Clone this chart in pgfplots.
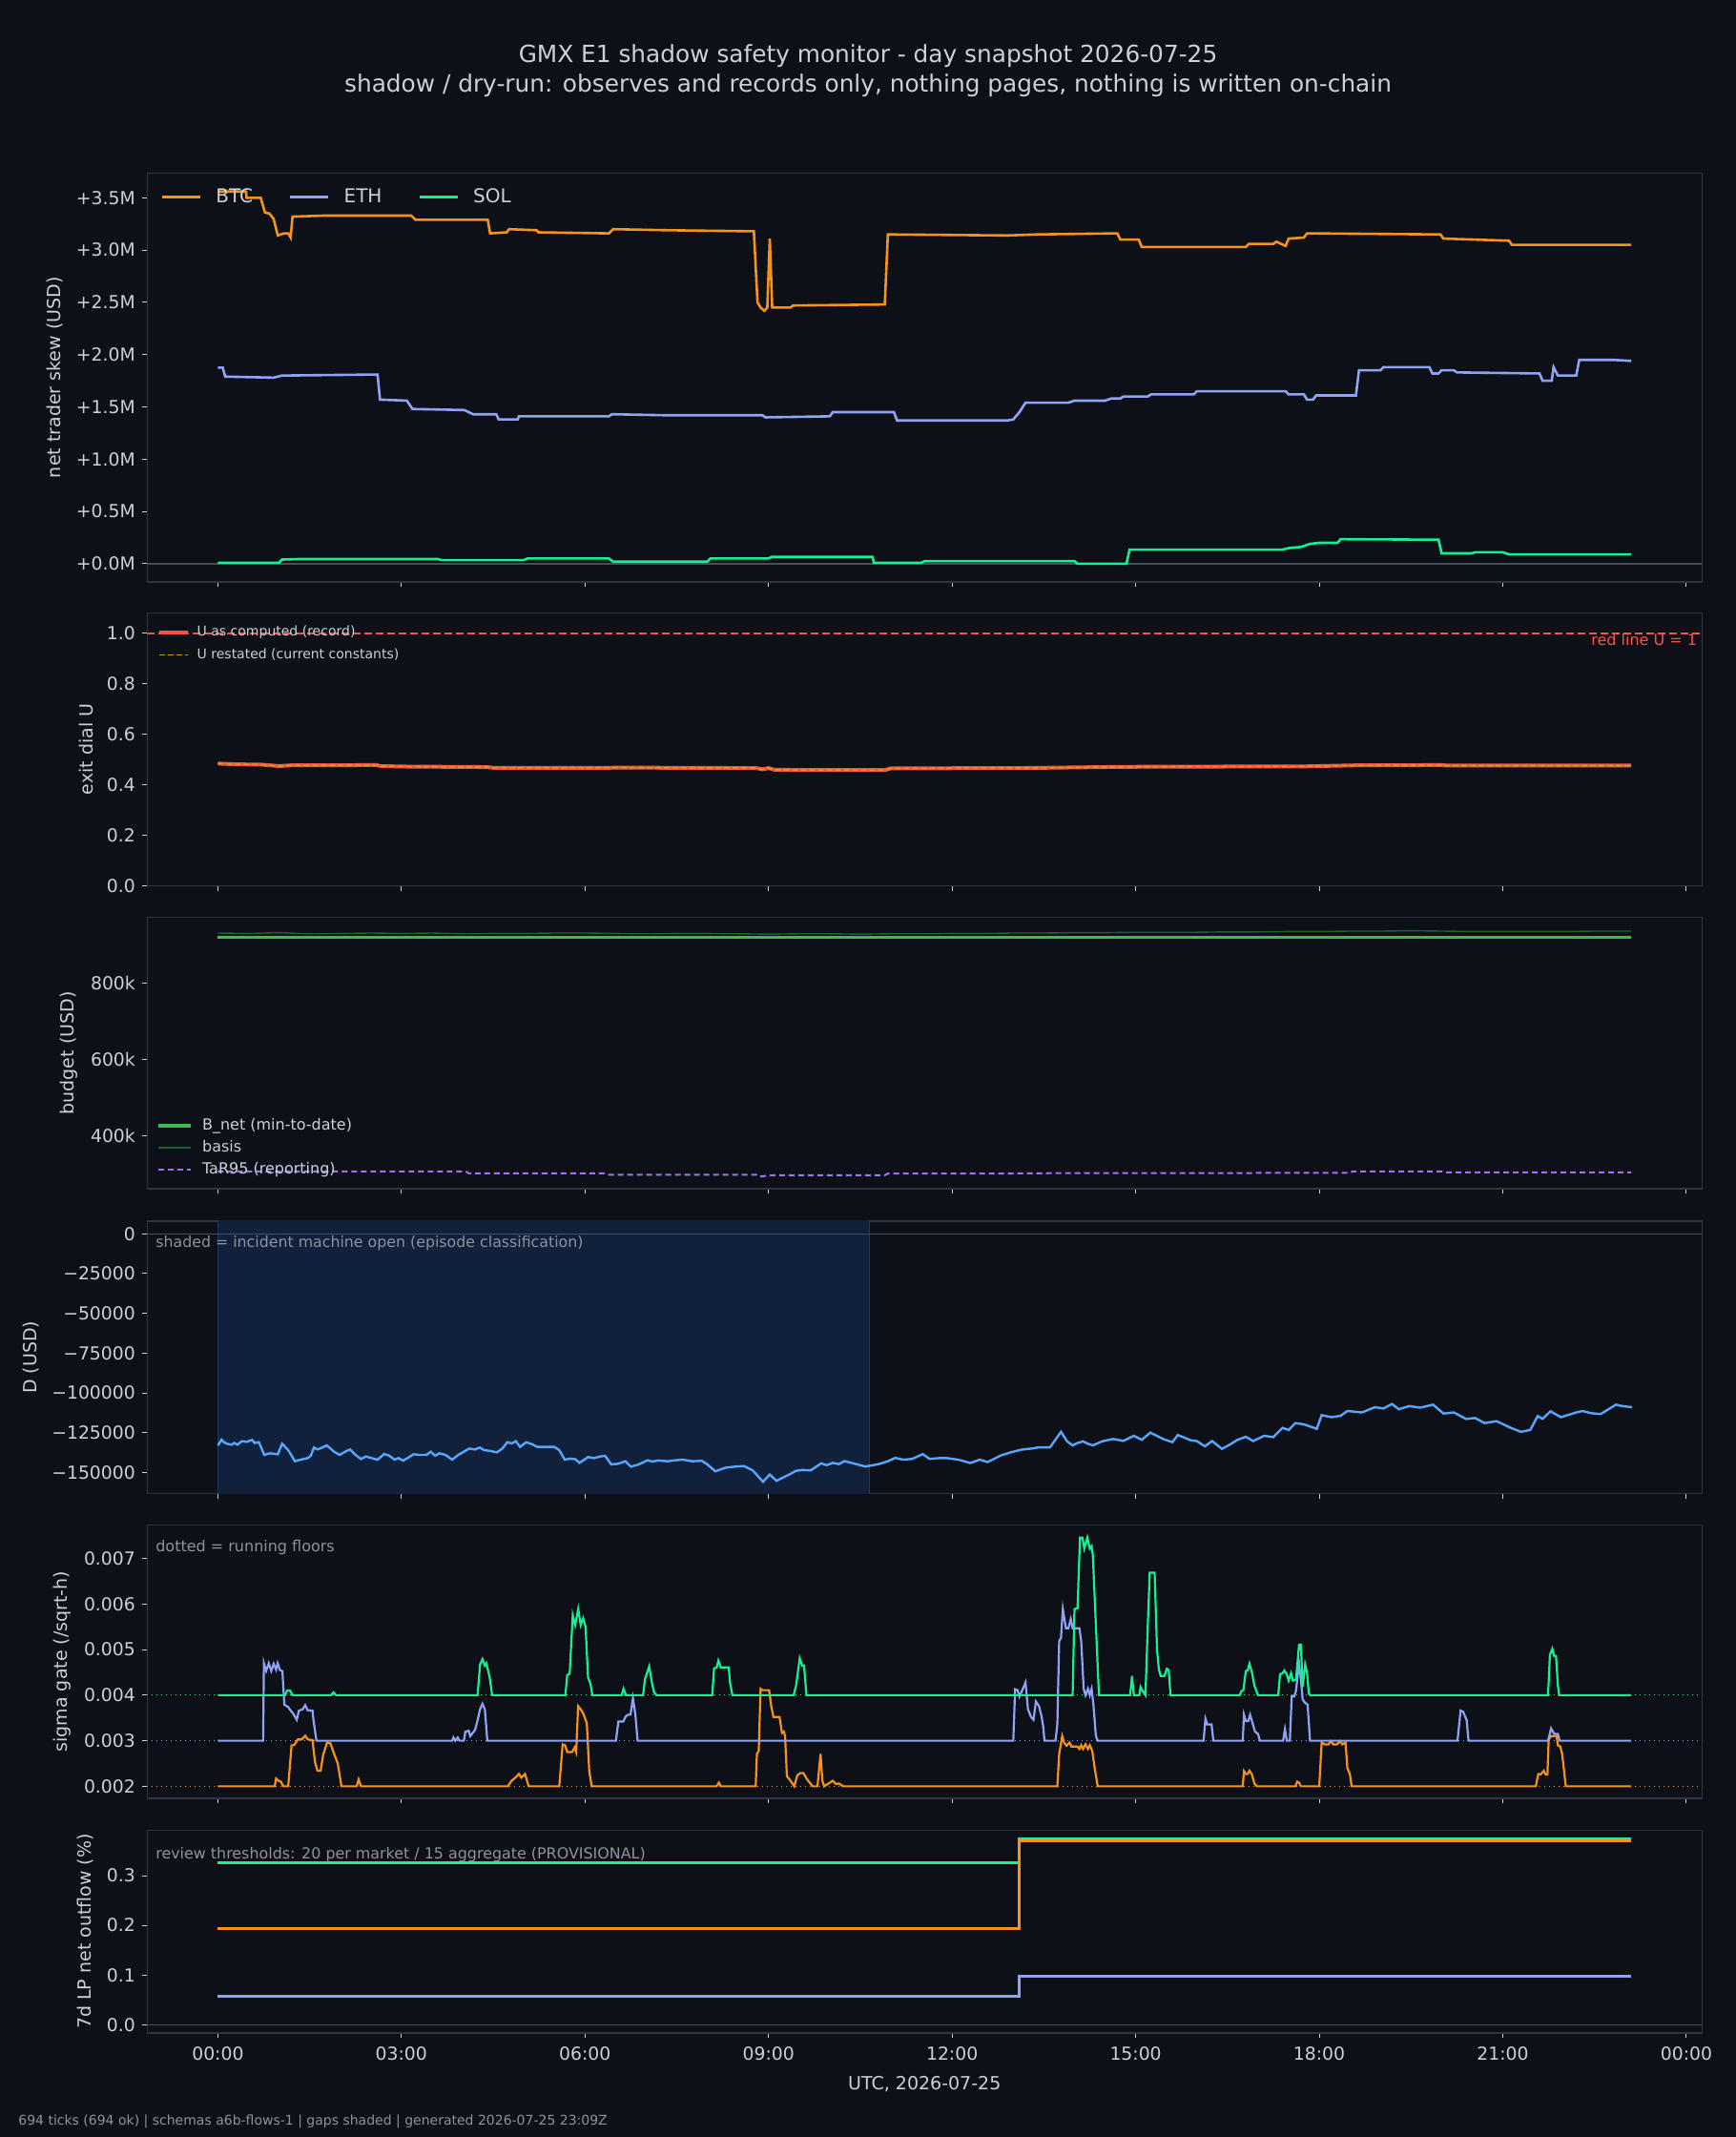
\documentclass[border=0pt]{standalone}
\usepackage{fontspec}
\setmainfont{DejaVu Sans}
\usepackage{pgfplots}
\usepackage{pgfplotstable}
\pgfplotsset{compat=1.18}

\definecolor{bgc}{HTML}{0D1117}
\definecolor{framec}{HTML}{30363D}
\definecolor{textc}{HTML}{C9D1D9}
\definecolor{mutedc}{HTML}{8B949E}
\definecolor{zeroc}{HTML}{484F58}
\definecolor{btc}{HTML}{F7931A}
\definecolor{eth}{HTML}{8FA3F5}
\definecolor{sol}{HTML}{14F195}
\definecolor{ured}{HTML}{F85149}
\definecolor{uorange}{HTML}{D29922}
\definecolor{bnet}{HTML}{3FB950}
\definecolor{basis}{HTML}{1F5F2E}
\definecolor{tar}{HTML}{A371F7}
\definecolor{dblue}{HTML}{58A6FF}
\definecolor{shadec}{HTML}{11213B}
\definecolor{shadeedge}{HTML}{1C3A63}

% exit dial U, as computed (the restated series coincides)
\pgfplotstableread{
h u
0 0.484
0.3 0.481
0.7 0.480
1.0 0.474
1.2 0.477
2.6 0.478
2.65 0.474
3.1 0.472
4.4 0.470
4.5 0.467
6.4 0.467
6.5 0.468
8.8 0.466
8.9 0.461
9.0 0.466
9.1 0.459
10.9 0.458
11.0 0.465
13.1 0.466
14.8 0.471
17.8 0.473
18.6 0.477
20.0 0.478
20.1 0.476
23.1 0.476
}\Utab

\pgfplotsset{
  panel/.style={
    scale only axis, width=815pt, anchor=north west,
    xmin=-1.155, xmax=24.255,
    xtick={0,3,6,9,12,15,18,21,24}, xticklabels={},
    tick align=outside, xtick pos=bottom, ytick pos=left,
    major tick length=2.7pt,
    major tick style={textc, line width=0.5pt},
    axis line style={framec, line width=0.7pt},
    tick label style={font=\fontsize{9.4}{11}\selectfont, text=textc},
    ylabel style={font=\fontsize{9.5}{11}\selectfont, text=textc},
    /pgf/number format/assume math mode=true,
    legend cell align=left,
  },
}

\begin{document}
\begin{tikzpicture}
\fill[bgc] (0,0) rectangle (910pt,1120pt);
\path[use as bounding box] (0,0) rectangle (910pt,1120pt);

\node[font=\fontsize{12.4}{15}\selectfont, text=textc] at (455pt,1090.5pt) {GMX E1 shadow safety monitor - day snapshot 2026-07-25};
\node[font=\fontsize{12.4}{15}\selectfont, text=textc] at (455pt,1075pt) {shadow / dry-run: observes and records only, nothing pages, nothing is written on-chain};

% ---------------- net trader skew ----------------
\begin{axis}[panel, at={(77.15pt,1029.3pt)}, height=214.3pt,
  ymin=-0.174, ymax=3.737,
  ytick={0,0.5,1,1.5,2,2.5,3,3.5},
  yticklabels={+0.0M,+0.5M,+1.0M,+1.5M,+2.0M,+2.5M,+3.0M,+3.5M},
  ylabel={net trader skew (USD)},
  legend columns=3,
  legend style={draw=none, fill=none, text=textc, font=\fontsize{10}{12}\selectfont,
    at={(0,1)}, anchor=north west, xshift=4pt, yshift=-4pt,
    /tikz/every odd column/.style={column sep=5.5pt},
    /tikz/every even column/.style={column sep=17pt}},
  legend image code/.code={\draw[#1] (0pt,0pt) -- (20pt,0pt);},
]
\addplot[zeroc, line width=0.6pt, forget plot] coordinates {(-1.155,0) (24.255,0)};
\addplot[btc, line width=1.3pt] coordinates {
(0,3.56) (0.46,3.56) (0.47,3.50) (0.70,3.50) (0.77,3.36) (0.84,3.35) (0.91,3.30) (0.98,3.14) (1.08,3.16) (1.15,3.16) (1.19,3.12) (1.22,3.32) (1.74,3.33) (3.16,3.33) (3.23,3.29) (4.41,3.29) (4.45,3.16) (4.72,3.17) (4.76,3.20) (5.21,3.19) (5.24,3.17) (6.39,3.16) (6.46,3.20) (7.35,3.19) (8.76,3.18) (8.82,2.50) (8.87,2.45) (8.93,2.42) (8.98,2.45) (9.02,3.11) (9.06,2.45) (9.36,2.45) (9.40,2.47) (10.90,2.48) (10.95,3.15) (12.90,3.14) (13.40,3.15) (14.70,3.16) (14.75,3.10) (15.05,3.10) (15.10,3.03) (16.80,3.03) (16.85,3.06) (17.25,3.06) (17.30,3.08) (17.45,3.04) (17.50,3.11) (17.75,3.12) (17.80,3.16) (19.98,3.15) (20.03,3.11) (21.10,3.09) (21.15,3.05) (23.10,3.05)};
\addlegendentry{BTC}
\addplot[eth, line width=1.3pt] coordinates {
(0,1.875) (0.08,1.875) (0.12,1.79) (0.91,1.78) (1.05,1.80) (2.61,1.81) (2.65,1.57) (3.09,1.56) (3.18,1.48) (4.03,1.47) (4.17,1.43) (4.55,1.43) (4.59,1.38) (4.90,1.38) (4.92,1.41) (6.39,1.41) (6.44,1.43) (7.35,1.42) (8.9,1.42) (8.95,1.40) (10.0,1.41) (10.05,1.45) (11.05,1.45) (11.1,1.37) (12.9,1.37) (13.0,1.38) (13.1,1.45) (13.2,1.54) (13.9,1.54) (14.0,1.56) (14.5,1.56) (14.6,1.58) (14.75,1.58) (14.8,1.60) (15.2,1.60) (15.25,1.62) (15.95,1.62) (16.0,1.65) (17.45,1.65) (17.5,1.62) (17.75,1.62) (17.8,1.57) (17.9,1.57) (17.95,1.61) (18.6,1.61) (18.65,1.85) (19.0,1.85) (19.05,1.88) (19.8,1.88) (19.85,1.82) (19.95,1.82) (20.0,1.85) (20.2,1.85) (20.25,1.83) (21.6,1.82) (21.65,1.75) (21.8,1.75) (21.83,1.88) (21.9,1.80) (22.2,1.80) (22.25,1.95) (22.8,1.95) (23.1,1.94)};
\addlegendentry{ETH}
\addplot[sol, line width=1.3pt] coordinates {
(0,0.01) (1.0,0.01) (1.05,0.04) (1.33,0.045) (3.6,0.045) (3.65,0.035) (5.0,0.035) (5.06,0.05) (6.39,0.05) (6.46,0.02) (8.0,0.02) (8.05,0.05) (9.0,0.05) (9.05,0.065) (10.7,0.065) (10.72,0.01) (11.5,0.01) (11.55,0.025) (14.0,0.025) (14.05,0.0) (14.85,0.0) (14.9,0.135) (17.4,0.135) (17.5,0.15) (17.7,0.16) (17.85,0.19) (18.0,0.20) (18.3,0.20) (18.35,0.235) (19.95,0.23) (20.0,0.10) (20.5,0.10) (20.55,0.11) (21.0,0.11) (21.1,0.09) (23.1,0.09)};
\addlegendentry{SOL}
\end{axis}

% ---------------- exit dial U ----------------
\begin{axis}[panel, at={(77.15pt,798.65pt)}, height=142.8pt,
  ymin=0, ymax=1.0805,
  ytick={0,0.2,0.4,0.6,0.8,1.0},
  yticklabels={0.0,0.2,0.4,0.6,0.8,1.0},
  ylabel={exit dial U},
  legend style={draw=none, fill=none, text=textc, font=\fontsize{7}{8.5}\selectfont,
    at={(0,1)}, anchor=north west, xshift=2pt, yshift=-2.5pt, row sep=1pt,
    /tikz/every odd column/.style={column sep=2pt}},
  legend image code/.code={\draw[#1] (0pt,0pt) -- (15pt,0pt);},
]
\addplot[ured, line width=2pt] table[x=h, y=u] {\Utab};
\addlegendentry{U as computed (record)}
\addplot[uorange, line width=0.9pt, dash pattern=on 3pt off 1.5pt] table[x=h, y=u] {\Utab};
\addlegendentry{U restated (current constants)}
\addplot[ured, line width=1pt, dash pattern=on 4pt off 2pt, forget plot] coordinates {(-1.155,1) (24.255,1)};
\node[anchor=east, text=ured, font=\fontsize{8}{9}\selectfont, inner sep=0pt] at (axis cs:24.18,1) [yshift=-3.5pt] {red line U = 1};
\end{axis}

% ---------------- budget ----------------
\begin{axis}[panel, at={(77.15pt,639.15pt)}, height=142.2pt,
  ymin=259, ymax=974,
  ytick={400,600,800},
  yticklabels={400k,600k,800k},
  ylabel={budget (USD)},
  legend style={draw=none, fill=none, text=textc, font=\fontsize{8}{9.5}\selectfont,
    at={(0,0)}, anchor=south west, xshift=2pt, yshift=2pt, row sep=0pt,
    /tikz/every odd column/.style={column sep=3pt}},
  legend image code/.code={\draw[#1] (0pt,0pt) -- (17pt,0pt);},
]
\addplot[bnet, line width=1.7pt] coordinates {(0,921) (23.1,921)};
\addlegendentry{B\_net (min-to-date)}
\addplot[basis, line width=0.7pt] coordinates {
(0,933) (0.5,932) (1,934) (1.5,931) (2,932) (2.5,933) (3,932) (3.5,933) (4,931) (4.5,932) (5,932) (5.5,933) (6,933) (6.5,932) (7,931) (7.5,932) (8,932) (8.5,931) (9,930) (9.5,931) (10,931) (10.5,930) (11,931) (11.5,931) (12,932) (12.5,932) (13,933) (13.5,933) (14,934) (14.5,934) (15,935) (15.5,935) (16,935) (16.5,936) (17,936) (17.5,937) (18,937) (18.5,938) (19,938) (19.5,939) (20,938) (20.5,937) (21,937) (21.5,937) (22,937) (22.5,938) (23.1,938)};
\addlegendentry{basis}
\addplot[tar, line width=1pt, dash pattern=on 3pt off 2pt] coordinates {
(0,305) (4.05,305) (4.1,300) (6.3,300) (6.4,296) (8.8,296) (8.85,291) (8.95,293) (9.05,295) (10.9,295) (10.95,299) (13.0,299) (13.1,300) (18.5,301) (18.55,305) (20.0,305) (20.05,302) (23.1,302)};
\addlegendentry{TaR95 (reporting)}
\end{axis}

% ---------------- D ----------------
\begin{axis}[panel, at={(77.15pt,480pt)}, height=142.85pt,
  ymin=-163.4, ymax=8,
  ytick={0,-25,-50,-75,-100,-125,-150},
  yticklabels={0,−25000,−50000,−75000,−100000,−125000,−150000},
  ylabel={D (USD)},
]
\addplot[fill=shadec, draw=shadeedge, line width=0.5pt] coordinates {(0,-170) (0,20) (10.65,20) (10.65,-170)} -- cycle;
\addplot[zeroc, line width=0.6pt] coordinates {(-1.155,0) (24.255,0)};
\addplot[dblue, line width=1.2pt] coordinates {
(0.00,-133) (0.02,-132) (0.06,-129.4) (0.10,-131) (0.15,-132) (0.22,-132.6) (0.27,-131.5) (0.32,-132.6) (0.39,-130.4) (0.47,-130.8) (0.56,-129.6) (0.60,-131.5) (0.67,-131) (0.76,-139) (0.85,-138) (0.98,-138.6) (1.05,-132) (1.15,-136) (1.26,-143) (1.35,-142) (1.47,-141) (1.52,-139.5) (1.57,-134.4) (1.62,-135.5) (1.67,-135) (1.78,-133) (1.9,-137) (1.99,-139) (2.08,-137) (2.16,-135.6) (2.25,-139) (2.34,-141.6) (2.42,-140) (2.51,-141) (2.61,-142) (2.72,-138.4) (2.80,-139.5) (2.89,-142) (2.95,-141) (3.03,-142.6) (3.1,-141) (3.2,-138.6) (3.3,-139) (3.41,-139) (3.48,-137) (3.55,-139.5) (3.62,-138) (3.72,-139) (3.83,-142) (3.93,-139) (4.02,-137) (4.11,-135) (4.2,-135.6) (4.28,-134.4) (4.35,-136) (4.45,-136.5) (4.56,-137.4) (4.65,-135) (4.73,-131) (4.8,-131.8) (4.87,-130.4) (4.94,-134) (5.04,-131) (5.15,-132.5) (5.22,-134) (5.35,-134) (5.5,-134) (5.58,-136) (5.67,-142) (5.75,-141.4) (5.84,-141.6) (5.91,-144) (6.05,-140.4) (6.15,-141) (6.25,-140) (6.33,-139.6) (6.43,-145) (6.54,-144.6) (6.66,-143) (6.75,-146.4) (6.88,-145) (7.02,-142.4) (7.1,-143.2) (7.2,-142.5) (7.35,-143)
(7.5,-142.3) (7.6,-142) (7.75,-143) (7.91,-142.7) (8.0,-145) (8.13,-149.3) (8.3,-147) (8.47,-146.3) (8.6,-146) (8.74,-148.7) (8.91,-155.9) (9.02,-151.3) (9.13,-155.3) (9.25,-153) (9.34,-151.3) (9.45,-149) (9.55,-148.5) (9.69,-148.7) (9.86,-144.3) (9.95,-145.5) (10.05,-144) (10.15,-144.8) (10.24,-142.9) (10.4,-144.5) (10.58,-146.3) (10.79,-144.9) (10.95,-143) (11.07,-140.9) (11.2,-142) (11.35,-141.5) (11.52,-138.5) (11.63,-141.5) (11.8,-141) (11.91,-141) (12.1,-142) (12.3,-144.1) (12.45,-142) (12.58,-143.5) (12.8,-139.3) (12.95,-137.5) (13.13,-135.7) (13.3,-135) (13.41,-134.3) (13.6,-134.3) (13.78,-124.5) (13.88,-130.5) (13.97,-133) (14.05,-131.5) (14.14,-130.5) (14.22,-132) (14.3,-133) (14.45,-130.5) (14.63,-129) (14.8,-130.2) (14.97,-127) (15.1,-129.5) (15.24,-125) (15.45,-129) (15.6,-131) (15.69,-126.5) (15.9,-129.8) (16.0,-130.3) (16.13,-133.6) (16.25,-130.3) (16.41,-135.2) (16.55,-132.3) (16.66,-129.6) (16.8,-127.6) (16.92,-130.3) (17.1,-127) (17.25,-127.8) (17.4,-122) (17.5,-123.3) (17.61,-119) (17.75,-119.8) (17.96,-122.6) (18.04,-114) (18.2,-115.3) (18.35,-114.4) (18.46,-111.4) (18.7,-112.3) (18.91,-109) (19.05,-109.8) (19.19,-107) (19.3,-110.3) (19.47,-108.3) (19.65,-109.3) (19.86,-107.4) (20.03,-113) (20.2,-112.3) (20.4,-116.4) (20.55,-115.8) (20.7,-119) (20.9,-117.8) (21.13,-122) (21.3,-124.5) (21.45,-123.3) (21.57,-114.6) (21.65,-116.3) (21.78,-111.6) (21.95,-115.3) (22.2,-112.3) (22.3,-111.4) (22.45,-112.8) (22.6,-113.3) (22.85,-107.4) (22.95,-108.3) (23.11,-109)};
\node[anchor=west, text=mutedc, font=\fontsize{7.9}{9.5}\selectfont, inner sep=0pt] at (rel axis cs:0.0053,1) [yshift=-11.7pt] {shaded = incident machine open (episode classification)};
\end{axis}

% ---------------- sigma gate ----------------
\begin{axis}[panel, at={(77.15pt,320.85pt)}, height=143.35pt,
  ymin=1.735, ymax=7.74,
  ytick={2,3,4,5,6,7},
  yticklabels={0.002,0.003,0.004,0.005,0.006,0.007},
  ylabel={sigma gate (/sqrt-h)},
]
\addplot[sol, dotted, line width=0.5pt] coordinates {(-1.155,4) (24.255,4)};
\addplot[eth, dotted, line width=0.5pt] coordinates {(-1.155,3) (24.255,3)};
\addplot[btc, dotted, line width=0.5pt] coordinates {(-1.155,2) (24.255,2)};
\addplot[btc, line width=1.1pt] coordinates {
(0,2) (0.93,2) (0.952,2.17) (0.992,2.12) (1.03,2.1) (1.07,2.0) (1.15,2.0) (1.205,2.9) (1.245,2.9) (1.309,3.03) (1.372,3.03) (1.428,3.11) (1.467,3.03) (1.547,3.01) (1.587,2.54) (1.627,2.34) (1.68,2.34) (1.72,2.68) (1.785,2.96) (1.84,2.94) (1.90,2.71) (1.96,2.5) (2.02,2.0) (2.27,2.0) (2.30,2.15) (2.34,2.0) (4.74,2) (4.80,2.12) (4.864,2.19) (4.92,2.27) (4.96,2.19) (5.02,2.27) (5.08,2.0) (5.58,2) (5.635,2.92) (5.675,2.9) (5.71,2.75) (5.79,2.75) (5.83,2.85) (5.856,2.75) (5.888,3.76) (5.93,3.69) (5.975,3.59) (6.03,3.38) (6.07,2.33) (6.11,2.0) (8.15,2) (8.19,2.08) (8.22,2) (8.79,2) (8.81,2.71) (8.84,2.78) (8.87,4.14) (8.9,4.11) (9.01,4.11) (9.04,3.79) (9.08,3.52) (9.18,3.52) (9.22,3.17) (9.25,3.2) (9.27,3.1) (9.3,2.22) (9.36,2.12) (9.42,2.0) (9.47,2.24) (9.52,2.29) (9.57,2.29) (9.63,2.15) (9.69,2.05) (9.72,2.0) (9.8,2.0) (9.85,2.71) (9.88,2.12) (9.91,2.0) (10.05,2.12) (10.1,2.05) (10.15,2.06) (10.22,2.0) (13.72,2) (13.75,2.71) (13.8,3.1) (13.83,2.96) (13.87,2.89) (13.92,2.96) (13.95,2.87) (14.05,2.87) (14.08,2.82) (14.11,2.9) (14.14,2.82) (14.18,2.92) (14.22,2.82) (14.25,2.9) (14.29,2.78) (14.33,2.4) (14.38,2.0) (16.75,2) (16.77,2.33) (16.8,2.27) (16.83,2.27) (16.86,2.34) (16.9,2.26) (16.94,2.06) (16.98,2.0) (17.61,2) (17.64,2.1) (17.67,2.08) (17.7,2.0) (18.0,2) (18.04,2.96) (18.09,2.92) (18.15,2.92) (18.19,2.99) (18.23,2.92) (18.29,2.92) (18.34,2.99) (18.38,2.92) (18.43,2.96) (18.46,2.4) (18.5,2.27) (18.53,2.0) (21.54,2) (21.58,2.27) (21.62,2.26) (21.67,2.34) (21.7,2.26) (21.73,2.26) (21.75,3.03) (21.79,3.1) (21.88,3.1) (21.9,2.9) (21.94,2.87) (21.97,2.71) (22.03,2.0) (23.1,2)};
\addplot[eth, line width=1.1pt] coordinates {
(0,3) (0.74,3) (0.753,4.70) (0.79,4.53) (0.832,4.70) (0.872,4.53) (0.912,4.69) (0.952,4.56) (0.976,4.70) (1.015,4.55) (1.055,4.53) (1.087,3.79) (1.15,3.74) (1.19,3.66) (1.229,3.6) (1.29,3.46) (1.325,3.66) (1.388,3.69) (1.428,3.78) (1.467,3.67) (1.547,3.66) (1.563,3.45) (1.611,3.0) (3.83,3) (3.85,3.07) (3.88,3) (3.92,3.07) (3.95,3) (4.02,3) (4.046,3.2) (4.10,3.22) (4.125,3.1) (4.205,3.24) (4.245,3.45) (4.285,3.69) (4.324,3.81) (4.364,3.69) (4.404,3.0) (6.506,3) (6.546,3.42) (6.625,3.42) (6.665,3.53) (6.70,3.57) (6.744,3.57) (6.784,3.93) (6.824,3.57) (6.86,3.0) (13.0,3) (13.03,4.13) (13.07,4.11) (13.1,3.97) (13.17,4.18) (13.2,4.28) (13.24,3.69) (13.29,3.52) (13.33,3.46) (13.37,3.86) (13.42,3.76) (13.46,3.55) (13.49,3.3) (13.51,3.0) (13.69,3) (13.72,3.36) (13.75,5.19) (13.78,5.26) (13.81,5.89) (13.86,5.47) (13.9,5.47) (13.94,5.67) (13.97,5.47) (14.08,5.47) (14.11,5.19) (14.15,4.14) (14.18,4.0) (14.22,4.14) (14.25,4.0) (14.28,4.14) (14.31,3.79) (14.35,3.1) (14.38,3.0) (16.11,3) (16.14,3.48) (16.17,3.36) (16.24,3.36) (16.27,3.0) (16.75,3) (16.77,3.57) (16.8,3.43) (16.84,3.43) (16.87,3.57) (16.91,3.39) (16.95,3.2) (17.0,3.15) (17.03,3.0) (17.41,3) (17.44,3.25) (17.47,3.0) (17.52,3.0) (17.55,3.97) (17.59,3.97) (17.62,4.09) (17.67,4.7) (17.7,4.35) (17.73,3.9) (17.77,3.83) (17.81,3.79) (17.85,3.0) (20.26,3) (20.31,3.66) (20.35,3.64) (20.41,3.45) (20.44,3.0) (21.74,3) (21.79,3.27) (21.84,3.15) (21.9,3.15) (21.93,3.0) (23.1,3)};
\addplot[sol, line width=1.1pt] coordinates {
(0,4) (1.1,4) (1.13,4.1) (1.18,4.1) (1.22,4) (1.85,4) (1.89,4.06) (1.93,4) (4.245,4) (4.285,4.67) (4.324,4.79) (4.364,4.65) (4.388,4.7) (4.443,4.39) (4.483,4) (5.68,4) (5.71,4.44) (5.75,4.47) (5.8,5.75) (5.84,5.54) (5.89,5.89) (5.93,5.54) (5.97,5.69) (6.01,5.5) (6.05,4.39) (6.09,4.25) (6.12,4) (6.6,4) (6.63,4.14) (6.67,4) (6.95,4) (6.98,4.35) (7.05,4.63) (7.09,4.3) (7.13,4.06) (7.17,4) (8.08,4) (8.11,4.59) (8.15,4.6) (8.18,4.76) (8.22,4.61) (8.35,4.61) (8.37,4.28) (8.41,4) (9.41,4) (9.45,4.21) (9.51,4.81) (9.55,4.65) (9.58,4.65) (9.62,4) (13.97,4) (14.0,5.89) (14.05,5.91) (14.09,7.46) (14.13,7.46) (14.16,7.22) (14.21,7.46) (14.25,7.22) (14.28,7.27) (14.3,7.08) (14.4,4) (14.91,4) (14.94,4.42) (14.97,4) (15.06,4) (15.08,4.18) (15.11,4.1) (15.16,4) (15.2,5.61) (15.23,6.69) (15.31,6.69) (15.35,4.98) (15.38,4.56) (15.41,4.42) (15.47,4.42) (15.51,4.58) (15.54,4.55) (15.57,4) (16.7,4) (16.73,4.09) (16.76,4.11) (16.8,4.53) (16.83,4.54) (16.86,4.69) (16.9,4.5) (16.94,4.21) (17.0,4) (17.33,4) (17.36,4.46) (17.4,4.48) (17.43,4.54) (17.47,4.46) (17.5,4.32) (17.54,4.48) (17.57,4.32) (17.62,4.34) (17.64,4.63) (17.67,5.11) (17.7,5.11) (17.73,4.18) (17.77,4.67) (17.8,4.5) (17.83,4.04) (17.85,4) (21.74,4) (21.77,4.88) (21.81,5.02) (21.84,4.86) (21.87,4.86) (21.9,4.22) (21.92,4) (23.1,4)};
\node[anchor=west, text=mutedc, font=\fontsize{8}{9.5}\selectfont, inner sep=0pt] at (rel axis cs:0.0053,1) [yshift=-12pt] {dotted = running floors};
\end{axis}

% ---------------- 7d LP net outflow ----------------
\begin{axis}[panel, at={(77.15pt,160.85pt)}, height=106.35pt,
  ymin=-0.0166, ymax=0.3916,
  ytick={0,0.1,0.2,0.3},
  yticklabels={0.0,0.1,0.2,0.3},
  ylabel={7d LP net outflow (\%)},
  xticklabels={00:00,03:00,06:00,09:00,12:00,15:00,18:00,21:00,00:00},
  xticklabel style={yshift=-0.8pt},
  xlabel={UTC, 2026-07-25},
  xlabel style={font=\fontsize{9.5}{11}\selectfont, text=textc, yshift=-1.5pt},
]
\addplot[zeroc, line width=0.6pt] coordinates {(-1.155,0) (24.255,0)};
\addplot[eth, const plot, line width=1.3pt] coordinates {(0,0.057) (13.1,0.0972) (23.1,0.0972)};
\addplot[sol, const plot, line width=1.3pt] coordinates {(0,0.326) (13.1,0.374) (23.1,0.374)};
\addplot[btc, const plot, line width=1.3pt] coordinates {(0,0.194) (13.1,0.370) (23.1,0.370)};
\node[anchor=west, text=mutedc, font=\fontsize{7.95}{9.5}\selectfont, inner sep=0pt] at (rel axis cs:0.0053,1) [yshift=-12.9pt] {review thresholds: 20 per market / 15 aggregate (PROVISIONAL)};
\end{axis}

\node[anchor=west, text=mutedc, font=\fontsize{7}{9}\selectfont, inner sep=0pt] at (9.5pt,8pt) {694 ticks (694 ok) | schemas a6b-flows-1 | gaps shaded | generated 2026-07-25 23:09Z};
\end{tikzpicture}
\end{document}
